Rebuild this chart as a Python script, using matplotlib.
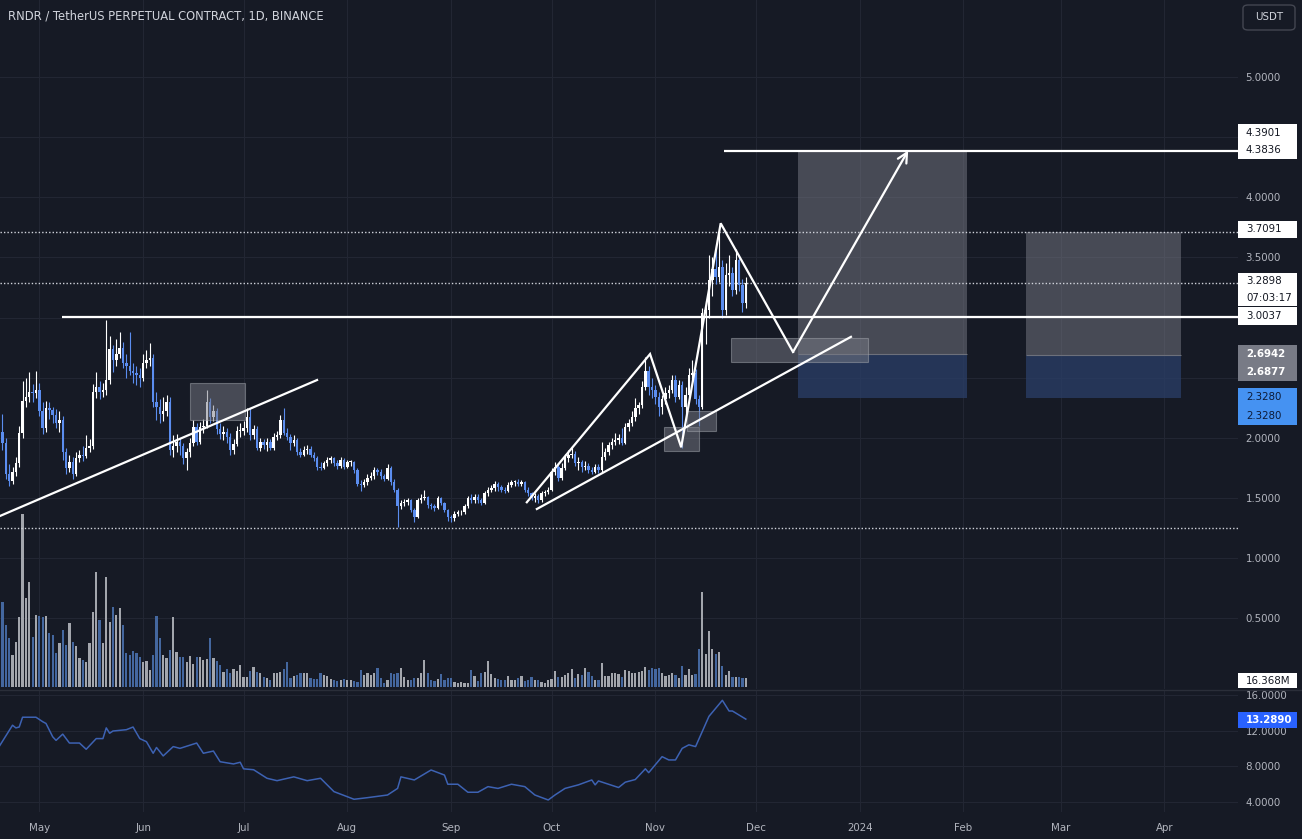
import datetime as dt

import matplotlib
matplotlib.use("Agg")
import matplotlib.dates as mdates
import matplotlib.pyplot as plt
import numpy as np
from matplotlib.lines import Line2D
from matplotlib.patches import FancyBboxPatch, Rectangle

plt.rcParams["font.family"] = ["DejaVu Sans"]

BG = "#161a25"
GRID = "#222633"
TXT = "#b2b5be"
UP = "#ffffff"
DOWN = "#5b8def"
VOL_UP = "#a3a6ad"
VOL_DOWN = "#44679f"

# daily candles, 20 Apr 2023 .. 28 Nov 2023
first_day = dt.datetime(2023, 4, 20)
first_open = 2.05
closes = [
    1.96, 1.70, 1.64, 1.72, 1.79, 2.04, 2.31, 2.34, 2.38, 2.37, 2.40,
    2.22, 2.08, 2.25, 2.23, 2.19, 2.12, 2.15, 1.88, 1.75, 1.80,
    1.70, 1.83, 1.86, 1.85, 1.92, 1.93, 2.38, 2.42, 2.38, 2.40,
    2.48, 2.74, 2.65, 2.70, 2.75, 2.62, 2.60, 2.56, 2.54, 2.52,
    2.50, 2.62, 2.65, 2.66, 2.30, 2.26, 2.20, 2.22, 2.30, 1.90,
    1.93, 1.97, 1.93, 1.83, 1.88, 1.96, 2.09, 1.97, 2.09, 2.10,
    2.30, 2.17, 2.22, 2.07, 2.03, 2.05, 2.01, 1.90, 1.95, 2.06,
    2.06, 2.08, 2.17, 2.02, 2.07, 1.92, 1.97, 1.94, 1.97, 1.92,
    2.01, 2.02, 2.15, 2.04, 2.01, 1.96, 1.98, 1.88, 1.86, 1.90,
    1.91, 1.86, 1.83, 1.76, 1.75, 1.79, 1.82, 1.83, 1.79, 1.77,
    1.82, 1.76, 1.80, 1.80, 1.73, 1.62, 1.61, 1.63, 1.67, 1.68,
    1.73, 1.72, 1.68, 1.66, 1.75, 1.63, 1.57, 1.43, 1.46, 1.47,
    1.48, 1.40, 1.34, 1.48, 1.50, 1.51, 1.44, 1.43, 1.42, 1.50,
    1.46, 1.40, 1.34, 1.33, 1.37, 1.38, 1.38, 1.43, 1.50, 1.48,
    1.51, 1.48, 1.46, 1.54, 1.57, 1.58, 1.62, 1.59, 1.57, 1.56,
    1.61, 1.63, 1.635, 1.62, 1.63, 1.57, 1.54, 1.50, 1.52, 1.48,
    1.54, 1.55, 1.57, 1.72, 1.76, 1.67, 1.75, 1.83, 1.86, 1.87,
    1.79, 1.80, 1.76, 1.77, 1.73, 1.72, 1.76, 1.73, 1.84, 1.88,
    1.94, 1.97, 1.98, 2.00, 1.96, 2.09, 2.12, 2.17, 2.25, 2.27,
    2.42, 2.56, 2.42, 2.40, 2.34, 2.26, 2.32, 2.37, 2.40, 2.48,
    2.34, 2.44, 2.26, 2.36, 2.52, 2.54, 2.32, 2.26, 3.04, 3.06,
    3.31, 3.40, 3.34, 3.42, 3.06, 3.35, 3.37, 3.23, 3.48, 3.27,
    3.12, 3.2898,
]
highs = [
    2.20, 2.00, 1.78, 1.76, 1.84, 2.10, 2.47, 2.50, 2.55, 2.45, 2.56,
    2.46, 2.30, 2.31, 2.30, 2.26, 2.24, 2.22, 2.18, 1.92, 1.86,
    1.84, 1.88, 1.90, 1.93, 2.02, 1.99, 2.45, 2.55, 2.47, 2.46,
    2.98, 2.85, 2.77, 2.82, 2.88, 2.80, 2.70, 2.88, 2.62, 2.60,
    2.58, 2.70, 2.73, 2.79, 2.70, 2.38, 2.32, 2.34, 2.36, 2.34,
    2.02, 2.03, 2.00, 1.96, 1.92, 2.00, 2.15, 2.12, 2.13, 2.16,
    2.40, 2.33, 2.27, 2.25, 2.12, 2.10, 2.08, 2.04, 1.99, 2.10,
    2.12, 2.14, 2.25, 2.25, 2.11, 2.10, 2.00, 1.99, 2.00, 1.99,
    2.04, 2.06, 2.19, 2.25, 2.08, 2.03, 2.02, 2.00, 1.92, 1.93,
    1.94, 1.93, 1.88, 1.85, 1.80, 1.81, 1.84, 1.85, 1.84, 1.82,
    1.84, 1.83, 1.82, 1.82, 1.81, 1.75, 1.65, 1.66, 1.70, 1.72,
    1.76, 1.75, 1.74, 1.70, 1.78, 1.77, 1.66, 1.58, 1.48, 1.49,
    1.50, 1.49, 1.42, 1.50, 1.53, 1.57, 1.52, 1.46, 1.45, 1.52,
    1.51, 1.47, 1.41, 1.36, 1.39, 1.40, 1.40, 1.45, 1.52, 1.53,
    1.53, 1.53, 1.50, 1.56, 1.59, 1.61, 1.64, 1.63, 1.61, 1.59,
    1.63, 1.65, 1.65, 1.66, 1.65, 1.64, 1.59, 1.55, 1.54, 1.53,
    1.56, 1.57, 1.59, 1.75, 1.80, 1.78, 1.79, 1.87, 1.90, 1.93,
    1.89, 1.84, 1.82, 1.81, 1.79, 1.76, 1.78, 1.78, 1.97, 1.92,
    1.97, 2.00, 2.04, 2.03, 2.08, 2.12, 2.16, 2.22, 2.33, 2.30,
    2.47, 2.67, 2.60, 2.50, 2.44, 2.38, 2.36, 2.42, 2.44, 2.52,
    2.52, 2.48, 2.47, 2.42, 2.58, 2.65, 2.57, 2.36, 3.08, 3.14,
    3.52, 3.50, 3.60, 3.7091, 3.48, 3.45, 3.52, 3.42, 3.57, 3.52,
    3.32, 3.34,
]
lows = [
    1.90, 1.66, 1.60, 1.62, 1.68, 1.76, 2.00, 2.26, 2.30, 2.30, 2.33,
    2.18, 2.03, 2.05, 2.16, 2.12, 2.08, 2.05, 1.82, 1.70, 1.72,
    1.66, 1.68, 1.80, 1.81, 1.83, 1.88, 1.91, 2.33, 2.32, 2.34,
    2.36, 2.45, 2.55, 2.60, 2.66, 2.58, 2.50, 2.52, 2.46, 2.44,
    2.42, 2.47, 2.58, 2.60, 2.26, 2.15, 2.12, 2.14, 2.18, 1.86,
    1.84, 1.88, 1.86, 1.78, 1.73, 1.84, 1.93, 1.94, 1.95, 2.04,
    2.08, 2.12, 2.14, 2.03, 1.99, 1.98, 1.96, 1.86, 1.87, 1.93,
    2.01, 2.02, 2.05, 1.98, 1.99, 1.90, 1.89, 1.91, 1.89, 1.90,
    1.90, 1.98, 2.00, 2.02, 1.98, 1.90, 1.93, 1.86, 1.84, 1.85,
    1.87, 1.84, 1.81, 1.73, 1.73, 1.74, 1.77, 1.79, 1.77, 1.74,
    1.75, 1.74, 1.75, 1.77, 1.71, 1.60, 1.56, 1.59, 1.61, 1.65,
    1.66, 1.69, 1.66, 1.64, 1.65, 1.61, 1.55, 1.26, 1.41, 1.43,
    1.44, 1.38, 1.30, 1.33, 1.46, 1.48, 1.42, 1.41, 1.39, 1.41,
    1.44, 1.38, 1.31, 1.30, 1.31, 1.35, 1.36, 1.37, 1.42, 1.46,
    1.46, 1.46, 1.44, 1.45, 1.52, 1.55, 1.56, 1.56, 1.55, 1.54,
    1.55, 1.59, 1.60, 1.60, 1.60, 1.55, 1.52, 1.48, 1.47, 1.46,
    1.47, 1.52, 1.53, 1.56, 1.69, 1.64, 1.65, 1.73, 1.80, 1.83,
    1.77, 1.73, 1.72, 1.73, 1.71, 1.70, 1.71, 1.71, 1.72, 1.82,
    1.86, 1.91, 1.94, 1.95, 1.94, 1.95, 2.06, 2.10, 2.14, 2.20,
    2.25, 2.40, 2.36, 2.33, 2.28, 2.18, 2.20, 2.28, 2.33, 2.37,
    2.30, 2.32, 1.92, 2.20, 2.34, 2.47, 2.28, 2.10, 2.24, 2.78,
    3.00, 3.18, 3.28, 3.30, 3.00, 3.02, 3.26, 3.18, 3.20, 3.22,
    3.05, 3.08,
]
volume_m = [
    153, 112, 88, 58, 81, 126, 313, 160, 189, 90, 130,
    128, 126, 128, 97, 94, 61, 79, 103, 76, 115,
    81, 74, 52, 49, 45, 79, 135, 207, 121, 79,
    198, 117, 144, 130, 142, 112, 61, 58, 65, 61,
    54, 45, 47, 31, 58, 128, 88, 58, 52, 67,
    126, 63, 54, 54, 45, 56, 41, 54, 54, 49,
    50, 88, 52, 47, 40, 27, 32, 25, 32, 29,
    40, 18, 18, 29, 36, 27, 25, 18, 16, 13,
    25, 25, 27, 32, 45, 16, 20, 22, 25, 25,
    25, 16, 14, 14, 25, 22, 20, 14, 13, 11,
    13, 14, 13, 13, 11, 9, 31, 22, 25, 22,
    25, 34, 16, 7, 13, 25, 23, 25, 34, 18,
    13, 13, 16, 16, 25, 49, 25, 13, 11, 14,
    23, 13, 16, 16, 9, 7, 9, 7, 7, 31,
    20, 11, 25, 27, 47, 23, 16, 14, 13, 13,
    20, 13, 13, 16, 20, 11, 13, 18, 13, 13,
    9, 7, 13, 14, 29, 18, 18, 22, 25, 32,
    16, 23, 22, 34, 27, 20, 13, 13, 43, 20,
    20, 25, 25, 23, 18, 31, 29, 25, 25, 27,
    29, 36, 31, 34, 32, 34, 25, 20, 22, 25,
    22, 16, 38, 22, 32, 22, 23, 68, 171, 59,
    101, 68, 59, 63, 38, 22, 29, 18, 18, 18,
    16, 16.368,
]
assert len(closes) == len(highs) == len(lows) == len(volume_m)

# lower pane indicator (days after 1 May 2023)
ind_day = [-12, -8, -7, -6, -5, -1, 1, 2, 4, 5, 7, 9, 12, 14, 17, 19, 20, 21, 22, 26,
           28, 30, 32, 34, 35, 37, 40, 42, 47, 49, 52, 54, 58, 60, 61, 64, 68, 71, 76, 80,
           84, 88, 94, 98, 104, 107, 108, 112, 117, 121, 122, 125, 128, 131, 134, 137, 141, 145, 148, 152,
           154, 157, 161, 165, 166, 167, 173, 175, 178, 181, 182, 186, 188, 190, 192, 194, 196, 198, 200, 204,
           206, 207, 211]
ind_val = [10.2, 12.6, 12.3, 12.4, 13.5, 13.5, 13.0, 12.8, 11.3, 10.9, 11.6, 10.6, 10.6, 9.9, 11.1, 11.1, 12.3, 11.7, 11.95, 12.1,
           12.4, 11.1, 10.75, 9.45, 10.1, 9.15, 10.2, 10.0, 10.6, 9.45, 9.7, 8.5, 8.25, 8.44, 7.7, 7.6, 6.64, 6.37, 6.8, 6.37,
           6.64, 5.14, 4.28, 4.46, 4.76, 5.5, 6.8, 6.45, 7.57, 7.0, 5.97, 5.97, 5.07, 5.07, 5.7, 5.5, 5.97, 5.7, 4.76, 4.2,
           4.76, 5.5, 5.9, 6.45, 5.9, 6.34, 5.6, 6.2, 6.5, 7.7, 7.27, 9.07, 8.7, 8.7, 10.0, 10.4, 10.2, 11.9, 13.6, 15.4,
           14.2, 14.2, 13.289]

month_starts = [dt.datetime(2023, m, 1) for m in range(5, 13)] + [dt.datetime(2024, m, 1) for m in range(1, 5)]
month_labels = ["May", "Jun", "Jul", "Aug", "Sep", "Oct", "Nov", "Dec", "2024", "Feb", "Mar", "Apr"]
price_ticks = [0.5, 1.0, 1.5, 2.0, 2.5, 3.0, 3.5, 4.0, 4.5, 5.0]
hidden_ticks = [2.5, 3.0, 4.5]  # covered by the price tags

# drawings: (days after 1 May 2023, price)
trend_left = ([-11.74, 82.95], [1.351, 2.481])
trend_right = ([148.6, 242.4], [1.409, 2.840])
zig_day = [145.6, 182.4, 191.7, 203.5, 225.1, 259.5]
zig_price = [1.465, 2.697, 1.922, 3.784, 2.714, 4.389]
resist_level, resist_from = 3.0037, 6.8
target_level, target_from = 4.3836, 204.5
dotted_levels = [3.7091, 3.2898, 1.2530]
zones = [(45.0, 61.4, 2.149, 2.456), (186.6, 197.0, 1.892, 2.091),
         (193.5, 202.1, 2.057, 2.224), (206.6, 247.5, 2.630, 2.829)]
positions = [(226.6, 277.1, 2.3280, 2.6942, 4.3836), (294.7, 341.0, 2.3280, 2.6877, 3.7091)]

W, H = 1302, 839


def fx(x):
    return x / W


def fy(y):
    return 1 - y / H


fig = plt.figure(figsize=(W / 100, H / 100), dpi=100, facecolor=BG)
base = mdates.date2num(dt.datetime(2023, 5, 1))
x0 = mdates.date2num(first_day)
xs = x0 + np.arange(len(closes))
xlim = (base - 11.74, base + 358.0)
ylim = (-0.0873, 5.640)

# grid pane at the very back, volume above it, price pane on top
gax = fig.add_axes([0, fy(689), fx(1238), 689 / H])
gax.set_facecolor(BG)
gax.set_xlim(*xlim)
gax.set_ylim(*ylim)
gax.set_xticks(mdates.date2num(month_starts))
gax.set_yticks(price_ticks)
gax.grid(True, color=GRID, linewidth=0.8)
gax.tick_params(length=0, labelbottom=False, labelleft=False)
for s in gax.spines.values():
    s.set_visible(False)

vax = fig.add_axes([0, fy(689), fx(1238), 689 / H])
vax.patch.set_visible(False)
vax.set_xlim(*xlim)
vax.set_ylim(-3.6, 1240)
vax.axis("off")

ax = fig.add_axes([0, fy(689), fx(1238), 689 / H])
ax.patch.set_visible(False)
ax.set_xlim(*xlim)
ax.set_ylim(*ylim)

iax = fig.add_axes([0, fy(812), fx(1238), 122 / H])
iax.set_facecolor(BG)
iax.set_xlim(*xlim)
iax.set_ylim(2.85, 16.56)
iax.grid(True, color=GRID, linewidth=0.8)
iax.set_axisbelow(True)

for a in (ax, iax):
    for s in a.spines.values():
        s.set_visible(False)
    a.set_xticks(mdates.date2num(month_starts))
    a.yaxis.tick_right()
    a.tick_params(axis="both", length=0, colors=TXT, labelsize=7.4)
    a.tick_params(axis="y", pad=5.5)

ax.set_yticks(price_ticks)
ax.set_yticklabels(["" if v in hidden_ticks else f"{v:.4f}" for v in price_ticks])
ax.set_xticklabels([])
iax.set_yticks([4, 8, 12, 16])
iax.set_yticklabels(["4.0000", "8.0000", "12.0000", "16.0000"])
iax.set_xticklabels(month_labels)
iax.tick_params(axis="x", pad=8)

# candles
opens = np.array([first_open] + closes[:-1])
c = np.array(closes)
up = c >= opens
cols = np.where(up, UP, DOWN)
ax.vlines(xs, lows, highs, colors=cols, linewidth=0.8, zorder=3)
ax.bar(xs, np.maximum(np.abs(c - opens), 0.008), bottom=np.minimum(c, opens),
       width=0.72, color=cols, linewidth=0, zorder=3)

vax.bar(xs, volume_m, width=0.66, color=np.where(up, VOL_UP, VOL_DOWN), linewidth=0)

iax.plot(base + np.array(ind_day), ind_val, color="#3d62b3", linewidth=1.1)

# position tools
for d0, d1, stop, entry, target in positions:
    ax.add_patch(Rectangle((base + d0, entry), d1 - d0, target - entry,
                           facecolor="#787b86", alpha=0.5, edgecolor="none", zorder=1))
    ax.add_patch(Rectangle((base + d0, stop), d1 - d0, entry - stop,
                           facecolor="#2b3f68", alpha=0.75, edgecolor="none", zorder=1))
    ax.hlines(entry, base + d0, base + d1, color="#6d707b", linewidth=0.8, zorder=1)

for d0, d1, p0, p1 in zones:
    ax.add_patch(Rectangle((base + d0, p0), d1 - d0, p1 - p0, facecolor="#787b86",
                           alpha=0.5, edgecolor="#a3a6ad", linewidth=0.8, zorder=4))

for p in dotted_levels:
    ax.axhline(p, color="#d1d4dc", linewidth=1.0, linestyle=(0, (1, 1.5)), zorder=2)

ax.hlines(resist_level, base + resist_from, xlim[1], color="white", linewidth=1.6, zorder=5)
ax.hlines(target_level, base + target_from, xlim[1], color="white", linewidth=1.6, zorder=5)
ax.plot(base + np.array(trend_left[0]), trend_left[1], color="white", linewidth=1.6, zorder=5)
ax.plot(base + np.array(trend_right[0]), trend_right[1], color="white", linewidth=1.6, zorder=5)
zx = base + np.array(zig_day)
ax.plot(zx[:-1], zig_price[:-1], color="white", linewidth=1.6, zorder=5, solid_joinstyle="miter")
ax.annotate("", xy=(zx[-1], zig_price[-1]), xytext=(zx[-2], zig_price[-2]),
            arrowprops=dict(arrowstyle="->,head_length=0.7,head_width=0.35", color="white",
                            lw=1.6, shrinkA=0, shrinkB=0), zorder=5)

# pane separator
fig.add_artist(Line2D([0, 1], [fy(689.5), fy(689.5)], color="#2a2e39", linewidth=1.0))

# title and currency button
fig.text(fx(8), fy(16), "RNDR / TetherUS PERPETUAL CONTRACT, 1D, BINANCE",
         color="#d1d4dc", fontsize=8.3, va="center")
fig.add_artist(FancyBboxPatch((fx(1243), fy(30)), 52 / W, 25 / H,
                              boxstyle="round,pad=0,rounding_size=0.004",
                              transform=fig.transFigure, facecolor=BG,
                              edgecolor="#434651", linewidth=1.0))
fig.text(fx(1269), fy(17.5), "USDT", color="#d1d4dc", fontsize=7.4, ha="center", va="center")


def price_tag(top, bottom, lines, fc, tc, weight="normal"):
    fig.add_artist(Rectangle((fx(1238), fy(bottom)), 59 / W, (bottom - top) / H,
                             transform=fig.transFigure, facecolor=fc, edgecolor="none", zorder=10))
    step = (bottom - top) / len(lines)
    for i, s in enumerate(lines):
        fig.text(fx(1246), fy(top + step * (i + 0.5)), s, color=tc, fontsize=7.4,
                 weight=weight, va="center", zorder=11)


price_tag(124, 159, ["4.3901", "4.3836"], "white", "#131722")
price_tag(221, 238, ["3.7091"], "white", "#131722")
price_tag(273, 306, ["3.2898", "07:03:17"], "white", "#131722")
price_tag(307, 325, ["3.0037"], "white", "#131722")
price_tag(345, 381, ["2.6942", "2.6877"], "#787b86", "white", "bold")
price_tag(388, 425, ["2.3280", "2.3280"], "#4592f2", "#0d1a36")
price_tag(673, 688, ["16.368M"], "white", "#131722")
price_tag(712, 728, ["13.2890"], "#2962ff", "white", "bold")

fig.savefig("out.png", dpi=100, facecolor=BG)
plt.close(fig)
